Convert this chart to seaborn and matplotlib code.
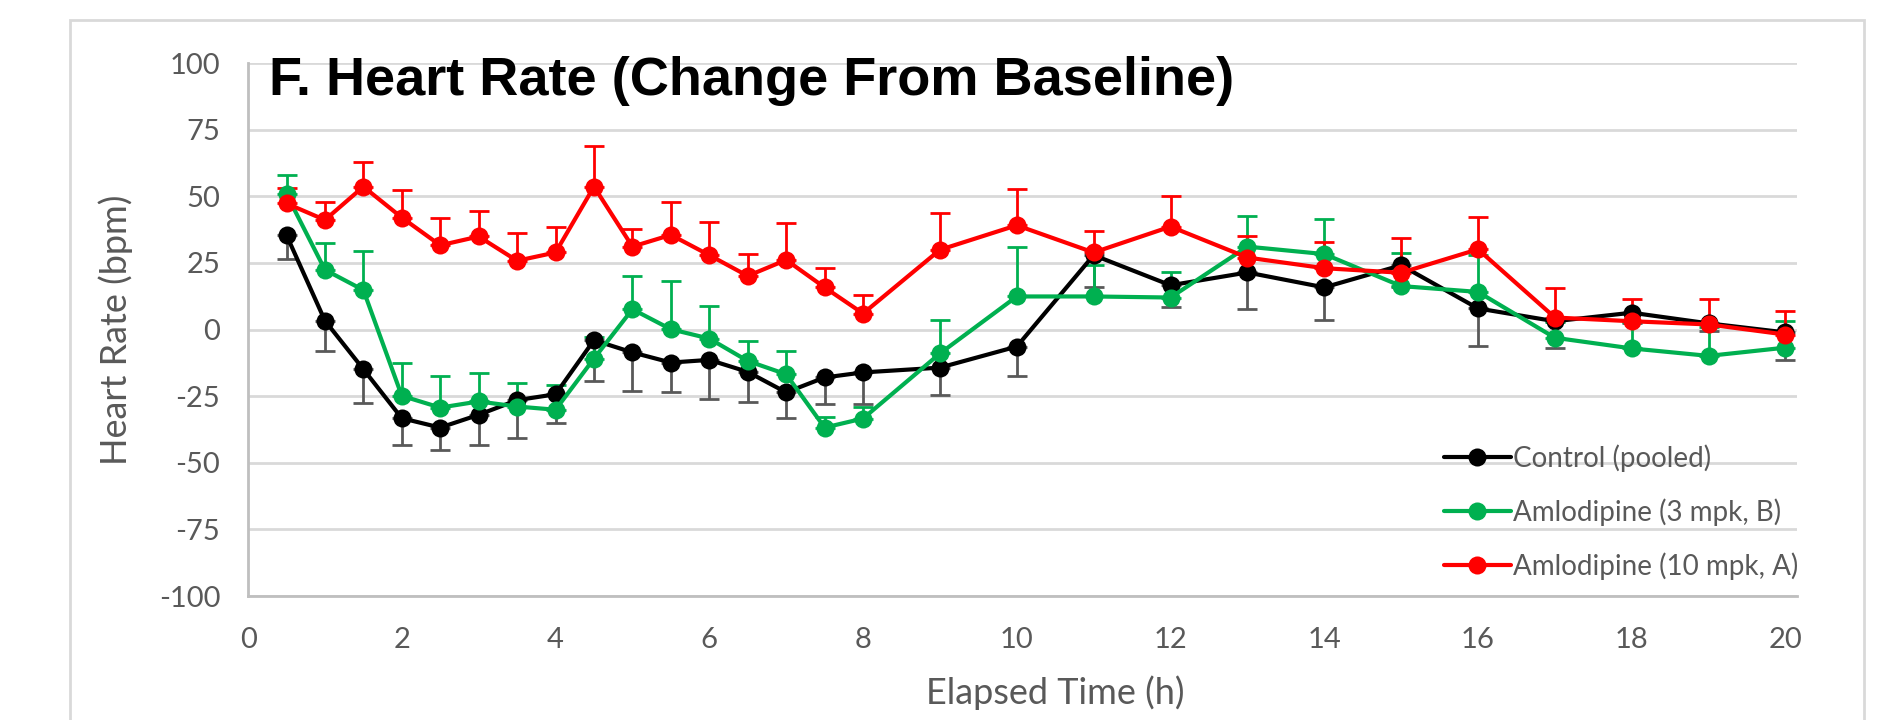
import numpy as np
import pandas as pd
import matplotlib
matplotlib.use("Agg")
import matplotlib.pyplot as plt
import seaborn as sns
from matplotlib.patches import Rectangle

# elapsed time (h)
hours = [0.5, 1, 1.5, 2, 2.5, 3, 3.5, 4, 4.5, 5, 5.5, 6, 6.5, 7, 7.5, 8,
         9, 10, 11, 12, 13, 14, 15, 16, 17, 18, 19, 20]

# change from baseline (bpm)
control = [35.4, 3.3, -14.9, -33.3, -36.8, -32.0, -26.5, -24.3, -4.0, -8.6,
           -12.4, -11.4, -15.9, -23.6, -18.0, -16.1, -14.3, -6.4, 27.9, 16.6,
           21.4, 15.8, 24.1, 7.9, 3.1, 6.3, 2.3, -1.1]
control_err = [9.0, 11.5, 12.7, 10.0, 8.3, 11.2, 14.3, 10.6, 15.3, 14.4,
               11.0, 14.5, 11.2, 9.6, 10.0, 11.9, 10.4, 11.2, 11.9, 8.3,
               13.8, 12.2, 8.0, 14.0, 10.2, 4.0, 3.0, 10.4]

amlo3 = [50.8, 22.4, 14.8, -24.9, -29.3, -27.0, -28.9, -30.1, -10.9, 7.6,
         0.1, -3.4, -11.8, -16.8, -36.8, -33.4, -9.0, 12.4, 12.4, 12.0,
         31.1, 28.3, 16.3, 14.1, -3.1, -7.1, -9.9, -6.8]
amlo3_err = [7.3, 10.2, 14.8, 12.5, 11.7, 10.6, 9.0, 9.4, 8.0, 12.5,
             18.2, 12.3, 7.5, 8.8, 4.0, 4.2, 12.5, 18.6, 11.7, 9.4,
             11.5, 13.0, 12.5, 14.0, 6.0, 10.0, 10.9, 10.0]

amlo10 = [47.3, 41.1, 53.6, 42.0, 31.6, 34.9, 25.8, 28.9, 53.6, 31.1,
          35.5, 27.9, 20.1, 26.1, 15.8, 6.0, 29.9, 39.1, 28.9, 38.6,
          27.0, 23.0, 21.3, 30.1, 4.5, 3.1, 1.9, -1.9]
amlo10_err = [5.7, 6.8, 9.4, 10.3, 10.4, 9.6, 10.3, 9.4, 15.3, 6.5,
              12.4, 12.5, 8.4, 14.0, 7.2, 7.0, 14.0, 13.5, 7.9, 11.5,
              7.9, 9.9, 12.9, 12.2, 11.1, 8.2, 9.7, 8.9]

labels = ["Control (pooled)", "Amlodipine (3 mpk, B)", "Amlodipine (10 mpk, A)"]
colors = ["#000000", "#00B050", "#FF0000"]
err_colors = ["#595959", "#00B050", "#FF0000"]

sns.set_style("white")
plt.rcParams["font.family"] = ["Lato", "DejaVu Sans"]
plt.rcParams["axes.unicode_minus"] = False

fig = plt.figure(figsize=(18.98, 7.2), dpi=100)
fig.patches.append(Rectangle((70 / 1898, -0.1), (1864 - 70) / 1898, 1.1 - 20 / 720,
                             transform=fig.transFigure, fill=False,
                             edgecolor="#d9d9d9", linewidth=2))
ax = fig.add_axes([0.1307, 0.1722, 0.8161, 0.7403])

series = [(control, control_err, "down"), (amlo3, amlo3_err, "up"), (amlo10, amlo10_err, "up")]
for (vals, errs, side), lab, col, ecol in zip(series, labels, colors, err_colors):
    vals = np.array(vals)
    errs = np.array(errs)
    yerr = [errs, np.zeros_like(errs)] if side == "down" else [np.zeros_like(errs), errs]
    ax.errorbar(hours, vals, yerr=yerr, fmt="none", ecolor=ecol, elinewidth=2,
                capsize=7, capthick=2, zorder=2)
    df = pd.DataFrame({"hours": hours, "hr": vals})
    sns.lineplot(data=df, x="hours", y="hr", ax=ax, color=col, linewidth=3,
                 marker="o", markersize=13, markeredgewidth=0, label=lab, zorder=3)

ax.set_xlim(0, 20.15)
ax.set_ylim(-100, 100)
ax.set_xticks(range(0, 21, 2))
ax.set_yticks(range(-100, 101, 25))
ax.yaxis.grid(True, color="#d9d9d9", linewidth=2)
ax.set_axisbelow(True)
for s in ["top", "right"]:
    ax.spines[s].set_visible(False)
for s in ["left", "bottom"]:
    ax.spines[s].set_color("#bfbfbf")
    ax.spines[s].set_linewidth(2)
ax.tick_params(axis="both", length=0, labelsize=21, labelcolor="#595959")
ax.tick_params(axis="y", pad=20)
ax.tick_params(axis="x", pad=22)
ax.set_xlabel("Elapsed Time (h)", fontsize=26, color="#595959")
ax.set_ylabel("Heart Rate (bpm)", fontsize=26, color="#595959")
ax.xaxis.set_label_coords(0.521, -0.148)
ax.yaxis.set_label_coords(-0.074, 0.5)

fig.text(269 / 1898, 1 - 81 / 720, "F. Heart Rate (Change From Baseline)",
         fontsize=39, fontweight="bold", family="Liberation Sans", color="black",
         va="center", ha="left")

leg = ax.legend(loc="upper left", bbox_to_anchor=(1444 / 1898, 1 - 444 / 720),
                bbox_transform=fig.transFigure, frameon=False, fontsize=20,
                handlelength=2.4, handletextpad=0.1, labelspacing=0.95,
                borderpad=0, borderaxespad=0)
for t in leg.get_texts():
    t.set_color("#595959")

fig.savefig("out.png", dpi=100)
